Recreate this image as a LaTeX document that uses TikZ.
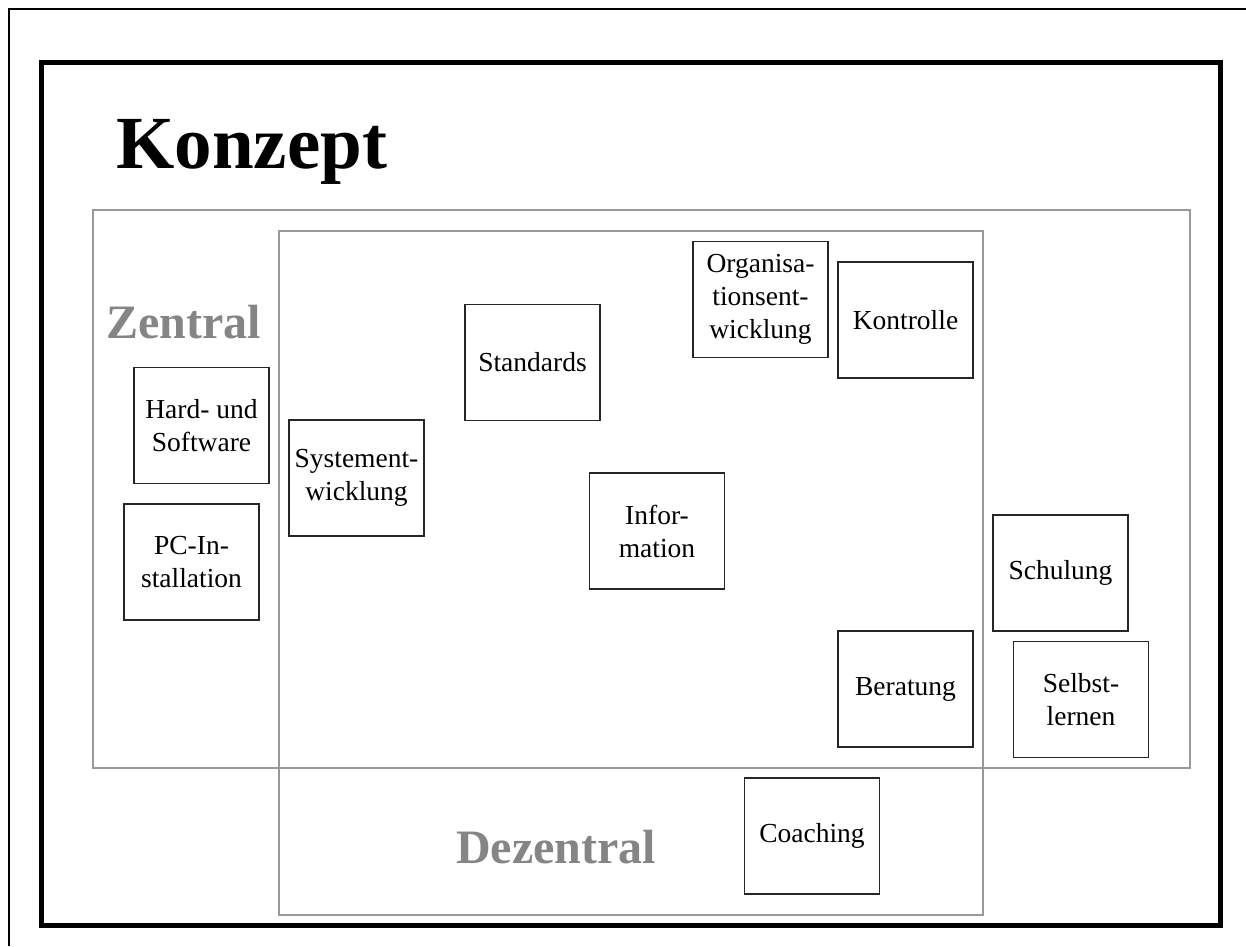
\documentclass[tikz,border=0pt]{standalone}
\usepackage{fontspec}
\setmainfont{Liberation Serif}
\begin{document}
\begin{tikzpicture}[x=1pt,y=-1pt,
  card/.style={draw=black!85, line width=1.3pt, fill=white, inner sep=0pt,
    minimum width=135pt, minimum height=116pt, align=center,
    font=\fontsize{27.5}{33}\selectfont},
  zone/.style={draw=black!40, line width=1.5pt},
  zonelabel/.style={text=black!48, anchor=base west, inner sep=0pt,
    font=\fontsize{48}{56}\selectfont\bfseries}]
\useasboundingbox (0,0) rectangle (1246,946);
% page edge and slide frame
\draw[line width=2pt] (9,946) -- (9,9) -- (1246,9);
\draw[line width=5pt] (41.5,62.5) rectangle (1220.5,925.5);
% title
\node[anchor=base west, inner sep=0pt, font=\fontsize{75}{85}\selectfont\bfseries]
  (title) at (116,168) {Konzept};
% central and decentral zones
\draw[zone] (93,210) rectangle (1190,768);
\draw[zone] (279,231) rectangle (983,915);
\node[zonelabel] (zentral) at (106,338) {Zentral};
\node[zonelabel] (dezentral) at (456,863) {Dezentral};
% activity cards
\node[card] (hw) at (201.5,425.5) {Hard- und\\Software};
\node[card] (pc) at (191.5,562) {PC-In-\\stallation};
\node[card] (sys) at (356.5,478) {Systement-\\wicklung};
\node[card] (std) at (532.5,362.5) {Standards};
\node[card] (info) at (657,531) {Infor-\\mation};
\node[card] (org) at (760.5,299.5) {Organisa-\\tionsent-\\wicklung};
\node[card] (ctrl) at (905.5,320) {Kontrolle};
\node[card] (schul) at (1060.5,573) {Schulung};
\node[card] (berat) at (905.5,689) {Beratung};
\node[card] (selbst) at (1081,699.5) {Selbst-\\lernen};
\node[card] (coach) at (812,836) {Coaching};
\end{tikzpicture}
\end{document}
